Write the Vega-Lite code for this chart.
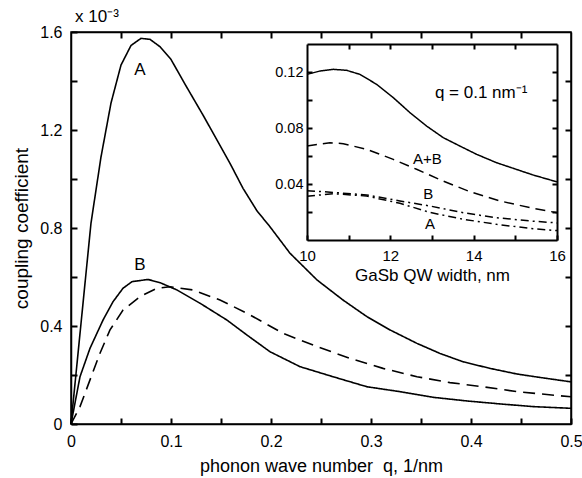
{
  "$schema": "https://vega.github.io/schema/vega-lite/v6.json",
  "width": 500,
  "height": 392,
  "autosize": "none",
  "padding": {"left": 71, "top": 32, "right": 11, "bottom": 54},
  "background": "white",
  "config": {
    "view": {"stroke": "black", "strokeWidth": 1.5},
    "font": "Liberation Sans",
    "axis": {
      "grid": false,
      "domainColor": "black",
      "domainWidth": 1.5,
      "labelColor": "black",
      "titleColor": "black",
      "labelFont": "Liberation Sans",
      "titleFont": "Liberation Sans",
      "titleFontWeight": "normal",
      "labelFontWeight": "normal"
    },
    "text": {"font": "Liberation Sans", "color": "black"}
  },
  "title": {
    "text": "x 10⁻³",
    "anchor": "start",
    "frame": "group",
    "fontSize": 17,
    "fontWeight": "normal",
    "font": "Liberation Sans",
    "color": "black",
    "offset": -2,
    "dx": 4
  },
  "datasets": {
    "main": [
      {"series": "A", "q": 0, "c": 0},
      {"series": "A", "q": 0.01, "c": 0.41},
      {"series": "A", "q": 0.02, "c": 0.82},
      {"series": "A", "q": 0.03, "c": 1.09},
      {"series": "A", "q": 0.04, "c": 1.31},
      {"series": "A", "q": 0.05, "c": 1.465},
      {"series": "A", "q": 0.06, "c": 1.545},
      {"series": "A", "q": 0.07, "c": 1.574},
      {"series": "A", "q": 0.079, "c": 1.57},
      {"series": "A", "q": 0.089, "c": 1.54},
      {"series": "A", "q": 0.1, "c": 1.488},
      {"series": "A", "q": 0.115, "c": 1.38},
      {"series": "A", "q": 0.132, "c": 1.261},
      {"series": "A", "q": 0.146, "c": 1.159},
      {"series": "A", "q": 0.159, "c": 1.064},
      {"series": "A", "q": 0.172, "c": 0.962},
      {"series": "A", "q": 0.186, "c": 0.87},
      {"series": "A", "q": 0.199, "c": 0.805},
      {"series": "A", "q": 0.219, "c": 0.697},
      {"series": "A", "q": 0.246, "c": 0.588},
      {"series": "A", "q": 0.272, "c": 0.506},
      {"series": "A", "q": 0.296, "c": 0.438},
      {"series": "A", "q": 0.319, "c": 0.384},
      {"series": "A", "q": 0.346, "c": 0.329},
      {"series": "A", "q": 0.369, "c": 0.288},
      {"series": "A", "q": 0.392, "c": 0.254},
      {"series": "A", "q": 0.419, "c": 0.227},
      {"series": "A", "q": 0.446, "c": 0.204},
      {"series": "A", "q": 0.469, "c": 0.19},
      {"series": "A", "q": 0.5, "c": 0.172},
      {"series": "B", "q": 0, "c": 0},
      {"series": "B", "q": 0.009, "c": 0.193},
      {"series": "B", "q": 0.019, "c": 0.309},
      {"series": "B", "q": 0.032, "c": 0.424},
      {"series": "B", "q": 0.042, "c": 0.499},
      {"series": "B", "q": 0.052, "c": 0.554},
      {"series": "B", "q": 0.061, "c": 0.581},
      {"series": "B", "q": 0.077, "c": 0.59},
      {"series": "B", "q": 0.089, "c": 0.577},
      {"series": "B", "q": 0.106, "c": 0.547},
      {"series": "B", "q": 0.129, "c": 0.493},
      {"series": "B", "q": 0.156, "c": 0.424},
      {"series": "B", "q": 0.176, "c": 0.363},
      {"series": "B", "q": 0.199, "c": 0.295},
      {"series": "B", "q": 0.229, "c": 0.234},
      {"series": "B", "q": 0.262, "c": 0.193},
      {"series": "B", "q": 0.296, "c": 0.152},
      {"series": "B", "q": 0.329, "c": 0.132},
      {"series": "B", "q": 0.362, "c": 0.109},
      {"series": "B", "q": 0.396, "c": 0.094},
      {"series": "B", "q": 0.429, "c": 0.082},
      {"series": "B", "q": 0.462, "c": 0.071},
      {"series": "B", "q": 0.5, "c": 0.064},
      {"series": "A+B", "q": 0, "c": 0},
      {"series": "A+B", "q": 0.009, "c": 0.071},
      {"series": "A+B", "q": 0.019, "c": 0.18},
      {"series": "A+B", "q": 0.029, "c": 0.289},
      {"series": "A+B", "q": 0.039, "c": 0.384},
      {"series": "A+B", "q": 0.052, "c": 0.465},
      {"series": "A+B", "q": 0.069, "c": 0.52},
      {"series": "A+B", "q": 0.086, "c": 0.554},
      {"series": "A+B", "q": 0.099, "c": 0.56},
      {"series": "A+B", "q": 0.122, "c": 0.547},
      {"series": "A+B", "q": 0.149, "c": 0.506},
      {"series": "A+B", "q": 0.176, "c": 0.452},
      {"series": "A+B", "q": 0.212, "c": 0.37},
      {"series": "A+B", "q": 0.246, "c": 0.316},
      {"series": "A+B", "q": 0.279, "c": 0.268},
      {"series": "A+B", "q": 0.312, "c": 0.227},
      {"series": "A+B", "q": 0.346, "c": 0.193},
      {"series": "A+B", "q": 0.379, "c": 0.169},
      {"series": "A+B", "q": 0.412, "c": 0.152},
      {"series": "A+B", "q": 0.446, "c": 0.132},
      {"series": "A+B", "q": 0.5, "c": 0.111}
    ],
    "mainLabels": [
      {"label": "A", "q": 0.0688, "c": 1.445},
      {"label": "B", "q": 0.0688, "c": 0.649}
    ],
    "inset": [
      {"series": "top", "w": 10, "c": 0.1183},
      {"series": "top", "w": 10.31, "c": 0.1207},
      {"series": "top", "w": 10.63, "c": 0.1219},
      {"series": "top", "w": 10.95, "c": 0.1212},
      {"series": "top", "w": 11.27, "c": 0.1183},
      {"series": "top", "w": 11.67, "c": 0.1112},
      {"series": "top", "w": 12.07, "c": 0.1017},
      {"series": "top", "w": 12.47, "c": 0.091},
      {"series": "top", "w": 12.87, "c": 0.0814},
      {"series": "top", "w": 13.27, "c": 0.0731},
      {"series": "top", "w": 13.67, "c": 0.0671},
      {"series": "top", "w": 14.07, "c": 0.0612},
      {"series": "top", "w": 14.55, "c": 0.0552},
      {"series": "top", "w": 14.95, "c": 0.0512},
      {"series": "top", "w": 15.43, "c": 0.0464},
      {"series": "top", "w": 16, "c": 0.0415},
      {"series": "A+B", "w": 10, "c": 0.0671},
      {"series": "A+B", "w": 10.55, "c": 0.0695},
      {"series": "A+B", "w": 10.87, "c": 0.0688},
      {"series": "A+B", "w": 11.43, "c": 0.0648},
      {"series": "A+B", "w": 12.07, "c": 0.0576},
      {"series": "A+B", "w": 12.63, "c": 0.0505},
      {"series": "A+B", "w": 13.27, "c": 0.0421},
      {"series": "A+B", "w": 13.91, "c": 0.0345},
      {"series": "A+B", "w": 14.63, "c": 0.0279},
      {"series": "A+B", "w": 15.35, "c": 0.0231},
      {"series": "A+B", "w": 16, "c": 0.0195},
      {"series": "B", "w": 10, "c": 0.0352},
      {"series": "B", "w": 10.63, "c": 0.034},
      {"series": "B", "w": 11.43, "c": 0.0322},
      {"series": "B", "w": 12.23, "c": 0.0279},
      {"series": "B", "w": 12.95, "c": 0.0243},
      {"series": "B", "w": 13.75, "c": 0.0195},
      {"series": "B", "w": 14.55, "c": 0.0159},
      {"series": "B", "w": 15.35, "c": 0.0136},
      {"series": "B", "w": 16, "c": 0.0122},
      {"series": "A", "w": 10, "c": 0.0312},
      {"series": "A", "w": 10.63, "c": 0.0331},
      {"series": "A", "w": 11.43, "c": 0.0314},
      {"series": "A", "w": 12.23, "c": 0.0262},
      {"series": "A", "w": 12.95, "c": 0.0197},
      {"series": "A", "w": 13.75, "c": 0.0148},
      {"series": "A", "w": 14.55, "c": 0.0112},
      {"series": "A", "w": 15.35, "c": 0.0083},
      {"series": "A", "w": 16, "c": 0.0067}
    ],
    "insetLabels": [
      {"label": "A+B", "w": 12.89, "c": 0.058},
      {"label": "B", "w": 12.91, "c": 0.0326},
      {"label": "A", "w": 12.95, "c": 0.0117}
    ],
    "insetNote": [
      {"label": "q = 0.1 nm⁻¹", "w": 13.07, "c": 0.1014}
    ]
  },
  "layer": [
    {
      "data": {"name": "main"},
      "mark": {"type": "line", "color": "black", "strokeWidth": 1.6},
      "encoding": {
        "x": {
          "field": "q", "type": "quantitative",
          "scale": {"domain": [0, 0.5], "nice": false, "zero": false},
          "axis": {
            "orient": "bottom",
            "values": [0, 0.05, 0.1, 0.15, 0.2, 0.25, 0.3, 0.35, 0.4, 0.45, 0.5],
            "format": ".2~f",
            "labelExpr": "round(datum.value*100) % 10 == 0 ? datum.label : ''",
            "tickSize": -6,
            "tickWidth": 2,
            "tickColor": "black",
            "labelFontSize": 16,
            "labelPadding": 15,
            "labelFlush": false,
            "title": "phonon wave number\u00a0 q, 1/nm",
            "titleFontSize": 18,
            "titlePadding": 8
          }
        },
        "y": {
          "field": "c", "type": "quantitative",
          "scale": {"domain": [0, 1.6], "nice": false, "zero": false},
          "axis": {
            "orient": "left",
            "values": [0, 0.2, 0.4, 0.6, 0.8, 1.0, 1.2, 1.4, 1.6],
            "format": ".1~f",
            "labelExpr": "round(datum.value*10) % 4 == 0 ? datum.label : ''",
            "tickSize": -6,
            "tickWidth": 2,
            "tickColor": "black",
            "labelFontSize": 16,
            "labelPadding": 15,
            "labelFlush": false,
            "title": "coupling coefficient",
            "titleFontSize": 19,
            "titlePadding": 8
          }
        },
        "strokeDash": {
          "field": "series", "type": "nominal",
          "scale": {"domain": ["A", "B", "A+B"], "range": [[1, 0], [1, 0], [12, 7]]},
          "legend": null
        }
      }
    },
    {
      "data": {"name": "mainLabels"},
      "mark": {"type": "text", "fontSize": 17, "align": "center", "baseline": "middle"},
      "encoding": {
        "x": {
          "field": "q", "type": "quantitative",
          "scale": {"domain": [0, 0.5], "nice": false, "zero": false},
          "axis": {
            "orient": "top",
            "values": [0.05, 0.1, 0.15, 0.2, 0.25, 0.3, 0.35, 0.4, 0.45],
            "labels": false,
            "tickSize": -6,
            "tickWidth": 2,
            "tickColor": "black",
            "title": null
          }
        },
        "y": {
          "field": "c", "type": "quantitative",
          "scale": {"domain": [0, 1.6], "nice": false, "zero": false},
          "axis": {
            "orient": "right",
            "values": [0.2, 0.4, 0.6, 0.8, 1.0, 1.2, 1.4],
            "labels": false,
            "tickSize": -6,
            "tickWidth": 2,
            "tickColor": "black",
            "title": null
          }
        },
        "text": {"field": "label", "type": "nominal"}
      }
    },
    {
      "data": {"name": "inset"},
      "mark": {"type": "line", "color": "black", "strokeWidth": 1.5},
      "encoding": {
        "x": {
          "field": "w", "type": "quantitative",
          "scale": {"domain": [10, 16], "range": [236, 486], "nice": false, "zero": false},
          "axis": {
            "orient": "bottom",
            "offset": -184,
            "domainWidth": 2,
            "values": [10, 11, 12, 13, 14, 15, 16],
            "format": "d",
            "labelExpr": "datum.value % 2 == 0 ? datum.label : ''",
            "tickSize": -5,
            "tickWidth": 2,
            "tickColor": "black",
            "labelFontSize": 15,
            "labelPadding": 13,
            "labelFlush": false,
            "title": "GaSb QW width, nm",
            "titleFontSize": 17,
            "titlePadding": 4
          }
        },
        "y": {
          "field": "c", "type": "quantitative",
          "scale": {"domain": [0, 0.14], "range": [208, 12], "nice": false, "zero": false},
          "axis": {
            "orient": "left",
            "offset": -236,
            "domainWidth": 2,
            "values": [0.02, 0.04, 0.06, 0.08, 0.1, 0.12],
            "format": ".2f",
            "labelExpr": "round(datum.value*100) % 4 == 0 ? datum.label : ''",
            "tickSize": -5,
            "tickWidth": 2,
            "tickColor": "black",
            "labelFontSize": 14.5,
            "labelPadding": 9,
            "labelFlush": false,
            "title": null
          }
        },
        "strokeDash": {
          "field": "series", "type": "nominal",
          "scale": {"domain": ["top", "A+B", "B", "A"], "range": [[1, 0], [10, 6], [8, 4, 2, 4], [8, 4, 2, 4]]},
          "legend": null
        }
      }
    },
    {
      "data": {"name": "insetLabels"},
      "mark": {"type": "text", "fontSize": 15, "align": "center", "baseline": "middle"},
      "encoding": {
        "x": {
          "field": "w", "type": "quantitative",
          "scale": {"domain": [10, 16], "range": [236, 486], "nice": false, "zero": false},
          "axis": {
            "orient": "top",
            "offset": -12,
            "domainWidth": 2,
            "values": [11, 12, 13, 14, 15],
            "labels": false,
            "tickSize": -5,
            "tickWidth": 2,
            "tickColor": "black",
            "title": null
          }
        },
        "y": {
          "field": "c", "type": "quantitative",
          "scale": {"domain": [0, 0.14], "range": [208, 12], "nice": false, "zero": false},
          "axis": {
            "orient": "right",
            "offset": -14,
            "domainWidth": 2,
            "values": [0.02, 0.04, 0.06, 0.08, 0.1, 0.12],
            "labels": false,
            "tickSize": -5,
            "tickWidth": 2,
            "tickColor": "black",
            "title": null
          }
        },
        "text": {"field": "label", "type": "nominal"}
      }
    },
    {
      "data": {"name": "insetNote"},
      "mark": {"type": "text", "fontSize": 17, "align": "left", "baseline": "alphabetic"},
      "encoding": {
        "x": {
          "field": "w", "type": "quantitative",
          "scale": {"domain": [10, 16], "range": [236, 486], "nice": false, "zero": false},
          "axis": null
        },
        "y": {
          "field": "c", "type": "quantitative",
          "scale": {"domain": [0, 0.14], "range": [208, 12], "nice": false, "zero": false},
          "axis": null
        },
        "text": {"field": "label", "type": "nominal"}
      }
    }
  ],
  "resolve": {
    "scale": {"x": "independent", "y": "independent", "strokeDash": "independent"},
    "axis": {"x": "independent", "y": "independent"}
  }
}
